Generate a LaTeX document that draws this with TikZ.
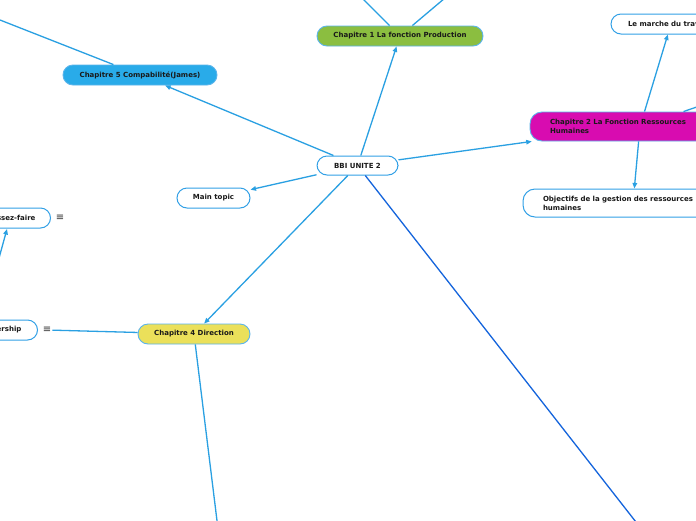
\documentclass[tikz,border=0pt]{standalone}
\usepackage{fontspec}
\setmainfont{DejaVu Sans}
\usetikzlibrary{arrows.meta}
\definecolor{txt}{RGB}{25,25,25}
\definecolor{nodeborder}{RGB}{50,160,230}
\definecolor{lightborder}{RGB}{90,180,235}
\definecolor{linec}{RGB}{42,160,226}
\definecolor{darkline}{RGB}{20,100,220}
\definecolor{greenfill}{RGB}{139,190,64}
\definecolor{bluefill}{RGB}{41,171,233}
\definecolor{magentafill}{RGB}{216,12,176}
\definecolor{yellowfill}{RGB}{235,224,90}
\definecolor{icong}{RGB}{50,50,50}
\begin{document}
\begin{tikzpicture}[x=1pt,y=-1pt,
  every node/.style={font=\fontsize{7}{9}\selectfont\bfseries, text=txt},
  topic/.style={draw=nodeborder, line width=1pt, rounded corners=10pt, minimum height=20pt, inner xsep=0pt, inner ysep=0pt, fill=white},
  coltopic/.style={topic, draw=lightborder, line width=0.9pt},
  conn/.style={draw=linec, line width=1.3pt, -{Triangle[length=5.5pt,width=4.5pt]}},
  plain/.style={draw=linec, line width=1.3pt},
  far/.style={draw=darkline, line width=1.3pt},
  icon/.style={font=\fontsize{10}{10}\selectfont, text=icong, inner sep=1pt},
]
\useasboundingbox (0,0) rectangle (696,520);
\clip (0,0) rectangle (696,520);
\fill[white] (0,0) rectangle (696,520);

% nodes
\node[topic, minimum width=81pt, minimum height=19pt] (bbi) at (357.5,165.5) {BBI UNITE 2};
\node[coltopic, fill=greenfill, minimum width=166pt] (ch1) at (400,36) {Chapitre 1 La fonction Production};
\node[coltopic, fill=bluefill, minimum width=154pt] (ch5) at (140,75) {Chapitre 5 Compabilité(James)};
\node[coltopic, fill=magentafill, minimum height=29pt, inner xsep=20pt, text width=180pt, align=left, rounded corners=12pt] (ch2) at (640,126.5) {Chapitre 2 La Fonction Ressources\\Humaines};
\node[topic, inner xsep=17pt, text width=86pt, align=left] (lm) at (671,24) {Le marche du travail};
\node[topic, minimum height=28pt, inner xsep=20pt, text width=180pt, align=left, rounded corners=12pt] (obj) at (633,203) {Objectifs de la gestion des ressources\\humaines};
\node[topic, minimum width=73pt] (main) at (213.5,198) {Main topic};
\node[coltopic, fill=yellowfill, minimum width=112pt] (ch4) at (194,334) {Chapitre 4 Direction};
\node[topic, anchor=east, inner xsep=15pt] (laissez) at (51,218) {Laissez-faire};
\node[topic, anchor=east, inner xsep=16pt] (leader) at (38,330) {Leadership};
\node[icon] (lficon) at (60,218) {≡};
\node[icon] (ldicon) at (47,330) {≡};

% free ends
\coordinate (c1a) at (362,-2);
\coordinate (c1b) at (445,-2);
\coordinate (c5a) at (0,20);
\coordinate (c2a) at (720,99);
\coordinate (c2b) at (720,147);
\coordinate (farend) at (650,540);
\coordinate (c4b) at (220,545);
\coordinate (lfp) at (-7,280);
\coordinate (lfin) at (7,229);

% connectors
\draw[conn] (bbi) -- (ch5);
\draw[conn] (bbi) -- (ch1);
\draw[conn] (bbi) -- (ch2);
\draw[conn] (bbi) -- (main);
\draw[conn] (bbi) -- (ch4);
\draw[far] (bbi) -- (farend);
\draw[plain] (ch1) -- (c1a);
\draw[plain] (ch1) -- (c1b);
\draw[plain] (ch5) -- (c5a);
\draw[conn] (ch2) -- (lm);
\draw[conn] (ch2) -- (obj);
\draw[plain] (ch2) -- (c2a);
\draw[plain] (ch2) -- (c2b);
\draw[plain] (ch4) -- (ldicon);
\draw[plain] (ch4) -- (c4b);
\draw[conn] (lfp) -- (lfin);
\end{tikzpicture}
\end{document}
